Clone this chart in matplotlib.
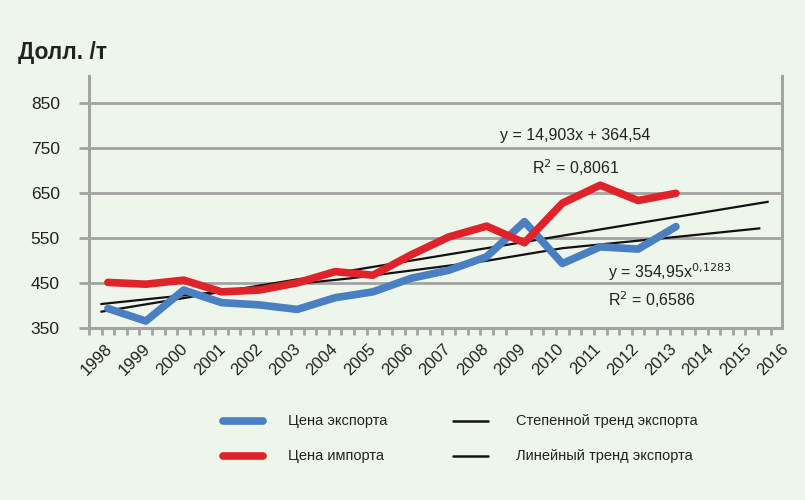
import numpy as np
import matplotlib.pyplot as plt
from matplotlib.lines import Line2D

plt.rcParams['font.family'] = ['Liberation Sans', 'DejaVu Sans']

years = np.arange(1998, 2014)
export_price = [394, 366, 435, 407, 402, 392, 418, 431, 461, 479, 509, 587, 494, 531, 526, 576]
import_price = [452, 448, 457, 431, 435, 451, 476, 468, 513, 553, 577, 540, 628, 668, 634, 650]

# trend lines as drawn on the original chart
lin_trend_x = [1997.83, 2015.42]
lin_trend_y = [387, 631]
pow_trend_x = [1997.83, 1999.3, 2004.4, 2008.0, 2010.0, 2013.0, 2015.2]
pow_trend_y = [404, 417, 461, 500, 528, 553, 572]

tick_years = [str(y) for y in range(1998, 2017)]
y_ticks = [350, 450, 550, 650, 750, 850]

legend_labels = ['Цена экспорта', 'Цена импорта', 'Степенной тренд экспорта', 'Линейный тренд экспорта']

bg = '#eef6ec'
grid_c = '#a3a3a3'
txt_c = '#222222'
blue = '#4a7fc1'
red = '#e0232b'
black = '#111111'

W, H = 805, 500
fig = plt.figure(figsize=(W / 100, H / 100), dpi=100, facecolor=bg)
ax = fig.add_axes([89 / W, 1 - 328.3 / H, (782 - 89) / W, (328.3 - 76) / H])
ax.set_facecolor(bg)

for v in y_ticks[1:]:
    ax.axhline(v, color=grid_c, lw=2, zorder=1)

ax.plot(lin_trend_x, lin_trend_y, color=black, lw=1.6, zorder=3)
ax.plot(pow_trend_x, pow_trend_y, color=black, lw=1.6, zorder=3)
ax.plot(years, export_price, color=blue, lw=5.5, solid_capstyle='round', solid_joinstyle='round', zorder=4)
ax.plot(years, import_price, color=red, lw=5.5, solid_capstyle='round', solid_joinstyle='round', zorder=5)

ax.set_ylim(350, 350 + 252.3 / 0.45)
ax.set_xlim(1997.5, 2015.8)

ax.spines['top'].set_visible(False)
for s in ['left', 'right', 'bottom']:
    ax.spines[s].set_color(grid_c)
    ax.spines[s].set_linewidth(2.2)

ax.set_yticks(y_ticks)
ax.set_yticklabels([str(v) for v in y_ticks], fontsize=12.5, color=txt_c)
ax.tick_params(axis='y', length=7, width=2, color=grid_c, pad=14)

tick_pos = 1997.92 + np.arange(len(tick_years)) * (37.7 / 38)
ax.set_xticks(tick_pos)
ax.set_xticklabels(tick_years, rotation=45, ha='right', rotation_mode='anchor',
                   fontsize=12, color=txt_c)
ax.tick_params(axis='x', which='major', length=0, pad=9)
ax.set_xticks(np.arange(1997.5, 2015.81, 1 / 3), minor=True)
ax.tick_params(axis='x', which='minor', length=5, width=2, color=grid_c)

ax.text(2010.35, 779, 'y = 14,903x + 364,54', fontsize=11.5, ha='center', va='center', color=txt_c)
ax.text(2010.35, 706, 'R$^2$ = 0,8061', fontsize=11.5, ha='center', va='center', color=txt_c)
ax.text(2011.2, 475, 'y = 354,95x$^{0{,}1283}$', fontsize=11.5, ha='left', va='center', color=txt_c)
ax.text(2011.2, 413, 'R$^2$ = 0,6586', fontsize=11.5, ha='left', va='center', color=txt_c)

fig.text(18 / W, 1 - 53 / H, 'Долл. /т', fontsize=16.5, fontweight='bold', va='center', ha='left', color=txt_c)

# legend, drawn by hand in figure pixels
leg_items = [
    (223, 263, 421, blue, 5.5, 288),
    (223, 263, 456, red, 5.5, 288),
    (453, 488, 421, black, 1.8, 516),
    (453, 488, 456, black, 1.8, 516),
]
for (x0, x1, yy, c, lw, tx), lab in zip(leg_items, legend_labels):
    fig.add_artist(Line2D([x0 / W, x1 / W], [1 - yy / H, 1 - yy / H], color=c, lw=lw,
                          solid_capstyle='round', transform=fig.transFigure))
    fig.text(tx / W, 1 - yy / H, lab, fontsize=10.5, va='center', ha='left', color=txt_c)

fig.savefig('out.png', dpi=100, facecolor=bg)
